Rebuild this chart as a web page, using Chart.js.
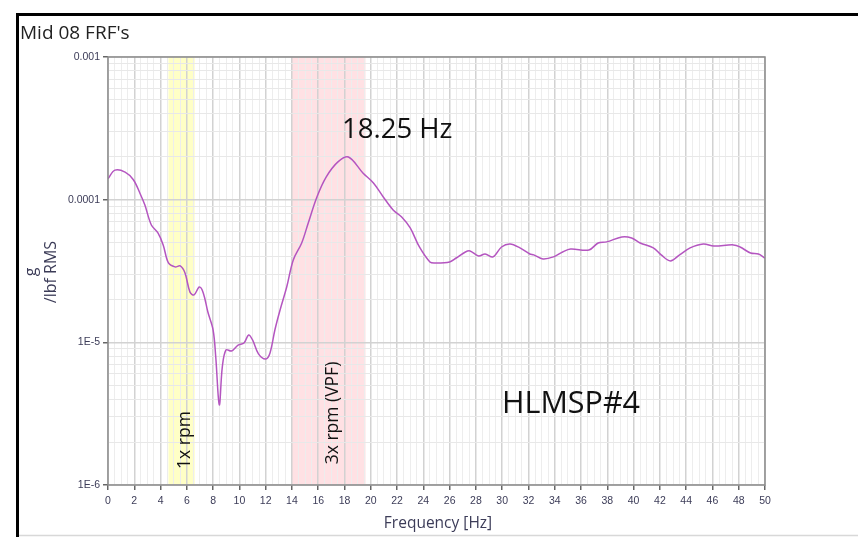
<!DOCTYPE html>
<html>
<head>
<meta charset="utf-8">
<script src="https://cdn.jsdelivr.net/npm/chart.js@4/dist/chart.umd.min.js"></script>
<style>
  html, body { margin: 0; padding: 0; background: #ffffff; }
  #wrap { width: 858px; height: 537px; position: relative; }
  canvas { display: block; }
</style>
</head>
<body>
<div id="wrap"><canvas id="c" width="858" height="537"></canvas></div>
<script>
// ---- Data ----
const titleText = "Mid 08 FRF's";
const xAxisTitle = "Frequency [Hz]";
const yAxisTitleLines = ["g", "/lbf RMS"];

const freqHz = [0.0, 0.53, 1.3, 1.93, 2.43, 2.8, 3.3, 3.8, 4.2, 4.6, 5.1, 5.5, 5.86, 6.24, 6.55, 6.95, 7.25, 7.6, 8.0, 8.2, 8.47, 8.7, 8.98, 9.4, 9.9, 10.35, 10.7, 11.0, 11.45, 12.0, 12.33, 12.7, 13.1, 13.6, 14.1, 14.74, 15.24, 15.9, 16.6, 17.5, 18.3, 19.4, 20.2, 20.95, 21.7, 22.35, 23.0, 23.7, 24.5, 24.9, 26.0, 26.5, 27.2, 27.55, 28.2, 28.7, 29.3, 29.95, 30.6, 31.35, 32.1, 32.4, 33.1, 33.9, 34.6, 35.2, 36.6, 37.3, 37.95, 39.1, 39.85, 40.5, 41.5, 42.1, 42.8, 43.5, 44.3, 45.3, 46.1, 47.6, 48.1, 48.9, 49.5, 50.0];
const frfValues = [1.40e-4, 1.61e-4, 1.56e-4, 1.38e-4, 1.11e-4, 9.2e-5, 6.65e-5, 5.85e-5, 4.82e-5, 3.60e-5, 3.38e-5, 3.43e-5, 3.06e-5, 2.25e-5, 2.15e-5, 2.44e-5, 2.22e-5, 1.63e-5, 1.22e-5, 7.9e-6, 3.64e-6, 6.73e-6, 8.85e-6, 8.7e-6, 9.57e-6, 9.9e-6, 1.125e-5, 1.04e-5, 8.3e-6, 7.64e-6, 8.43e-6, 1.22e-5, 1.69e-5, 2.44e-5, 3.78e-5, 4.97e-5, 6.87e-5, 1.045e-4, 1.44e-4, 1.84e-4, 1.99e-4, 1.54e-4, 1.31e-4, 1.045e-4, 8.47e-5, 7.56e-5, 6.34e-5, 4.66e-5, 3.66e-5, 3.60e-5, 3.66e-5, 3.90e-5, 4.30e-5, 4.37e-5, 4.03e-5, 4.16e-5, 3.97e-5, 4.66e-5, 4.89e-5, 4.59e-5, 4.16e-5, 4.10e-5, 3.84e-5, 3.97e-5, 4.30e-5, 4.51e-5, 4.44e-5, 4.97e-5, 5.06e-5, 5.48e-5, 5.39e-5, 4.97e-5, 4.59e-5, 4.10e-5, 3.72e-5, 4.10e-5, 4.59e-5, 4.89e-5, 4.74e-5, 4.82e-5, 4.66e-5, 4.23e-5, 4.16e-5, 3.90e-5];

const xTickLabels = [0, 2, 4, 6, 8, 10, 12, 14, 16, 18, 20, 22, 24, 26, 28, 30, 32, 34, 36, 38, 40, 42, 44, 46, 48, 50];
const yDecades = [1e-6, 1e-5, 1e-4, 1e-3];
const yTickLabels = ["1E-6", "1E-5", "0.0001", "0.001"];

const bandNames = ["1x rpm", "3x rpm (VPF)"];
const bandFrom = [4.6, 14.0];
const bandTo = [6.6, 19.6];

const peakLabel = "18.25 Hz";
const sensorLabel = "HLMSP#4";

// ---- Chart ----
const PLOT = { left: 108, right: 765, top: 57, bottom: 485 };
const TXT = '#3c3c58';

const bandsPlugin = {
  id: 'bands',
  beforeDraw(chart) {
    const { ctx, chartArea: a, scales: { x } } = chart;
    const colors = ['rgba(255,255,160,0.6)', 'rgba(255,200,205,0.55)'];
    ctx.save();
    bandFrom.forEach((f, i) => {
      const x0 = x.getPixelForValue(f), x1 = x.getPixelForValue(bandTo[i]);
      ctx.fillStyle = colors[i];
      ctx.fillRect(x0, a.top, x1 - x0, a.bottom - a.top);
    });
    ctx.restore();
  },
  afterDraw(chart) {
    const { ctx, chartArea: a } = chart;
    ctx.save();
    // frame
    ctx.strokeStyle = '#000';
    ctx.lineWidth = 3;
    ctx.beginPath();
    ctx.moveTo(858, 14.5); ctx.lineTo(17.5, 14.5); ctx.lineTo(17.5, 537);
    ctx.stroke();
    ctx.strokeStyle = '#d8d8d8';
    ctx.lineWidth = 1.5;
    ctx.beginPath(); ctx.moveTo(19, 535.5); ctx.lineTo(858, 535.5); ctx.stroke();

    // plot border
    ctx.strokeStyle = '#8c8c8c';
    ctx.lineWidth = 1.5;
    ctx.strokeRect(a.left, a.top, a.right - a.left, a.bottom - a.top);

    // title
    ctx.fillStyle = '#222';
    ctx.font = '19px "Open Sans"';
    ctx.textAlign = 'left'; ctx.textBaseline = 'alphabetic';
    ctx.fillText(titleText, 20, 39);

    // axis titles
    ctx.fillStyle = TXT;
    ctx.font = '15.5px "Open Sans"';
    ctx.textAlign = 'center';
    ctx.fillText(xAxisTitle, 438, 528);
    ctx.save();
    ctx.translate(0, 272); ctx.rotate(-Math.PI / 2);
    ctx.textBaseline = 'middle';
    ctx.font = '16px "Open Sans"';
    ctx.fillText(yAxisTitleLines[0], 0, 31);
    ctx.fillText(yAxisTitleLines[1], 0, 51);
    ctx.restore();

    // band labels
    ctx.fillStyle = '#111';
    ctx.font = '17.5px "Open Sans"';
    const bandCx = [185, 333];
    const bandCy = [440, 413];
    bandNames.forEach((t, i) => {
      ctx.save();
      ctx.translate(bandCx[i], bandCy[i]); ctx.rotate(-Math.PI / 2);
      ctx.textAlign = 'center'; ctx.textBaseline = 'middle';
      ctx.fillText(t, 0, 0);
      ctx.restore();
    });

    // big annotations
    ctx.fillStyle = '#111';
    ctx.textAlign = 'left'; ctx.textBaseline = 'alphabetic';
    ctx.font = '27.5px "Open Sans"';
    ctx.fillText(peakLabel, 342, 138);
    ctx.font = '30.5px "Open Sans"';
    ctx.fillText(sensorLabel, 502, 413);
    ctx.restore();
  }
};

const minorTicksX = [];
for (let i = 0; i <= 100; i++) minorTicksX.push(i * 0.5);

const isDecade = v => yDecades.some(d => Math.abs(v - d) < d * 1e-6);

new Chart(document.getElementById('c'), {
  type: 'line',
  data: {
    datasets: [{
      data: freqHz.map((f, i) => ({ x: f, y: frfValues[i] })),
      borderColor: '#b455c0',
      borderWidth: 1.5,
      pointRadius: 0,
      tension: 0.35,
      fill: false
    }]
  },
  options: {
    responsive: false,
    devicePixelRatio: 1,
    animation: false,
    layout: { padding: { left: 0, top: PLOT.top, right: 858 - PLOT.right, bottom: 0 } },
    plugins: { legend: { display: false }, tooltip: { enabled: false }, title: { display: false } },
    scales: {
      x: {
        type: 'linear', min: 0, max: 50,
        afterBuildTicks(s) { s.ticks = minorTicksX.map(v => ({ value: v })); },
        afterFit(s) { s.height = 537 - PLOT.bottom; },
        border: { display: false },
        grid: {
          color: c => (c.tick && xTickLabels.includes(c.tick.value)) ? '#d2d2d2' : '#ededed',
          lineWidth: c => (c.tick && xTickLabels.includes(c.tick.value)) ? 1.5 : 1,
          tickColor: c => (c.tick && xTickLabels.includes(c.tick.value)) ? '#666' : 'rgba(0,0,0,0)',
          tickLength: 5
        },
        ticks: {
          autoSkip: false, maxRotation: 0, padding: 5,
          color: TXT, font: { family: 'Liberation Sans', size: 10.5 },
          callback: v => xTickLabels.includes(v) ? String(v) : ''
        }
      },
      y: {
        type: 'logarithmic', min: 1e-6, max: 1e-3,
        afterBuildTicks(s) {
          const t = [];
          yDecades.forEach((d, i) => {
            if (i === yDecades.length - 1) { t.push({ value: d }); return; }
            for (let m = 1; m <= 9; m++) t.push({ value: d * m });
          });
          s.ticks = t;
        },
        afterFit(s) { s.width = PLOT.left; },
        border: { display: false },
        grid: {
          color: c => (c.tick && isDecade(c.tick.value)) ? '#d2d2d2' : '#e8e8e8',
          lineWidth: c => (c.tick && isDecade(c.tick.value)) ? 1.5 : 1,
          tickColor: c => (c.tick && isDecade(c.tick.value)) ? '#666' : 'rgba(0,0,0,0)',
          tickLength: 5
        },
        ticks: {
          autoSkip: false, padding: 3,
          color: TXT, font: { family: 'Liberation Sans', size: 10.5 },
          callback: v => {
            const i = yDecades.findIndex(d => Math.abs(v - d) < d * 1e-6);
            return i >= 0 ? yTickLabels[i] : '';
          }
        }
      }
    }
  },
  plugins: [bandsPlugin]
});
</script>
</body>
</html>
